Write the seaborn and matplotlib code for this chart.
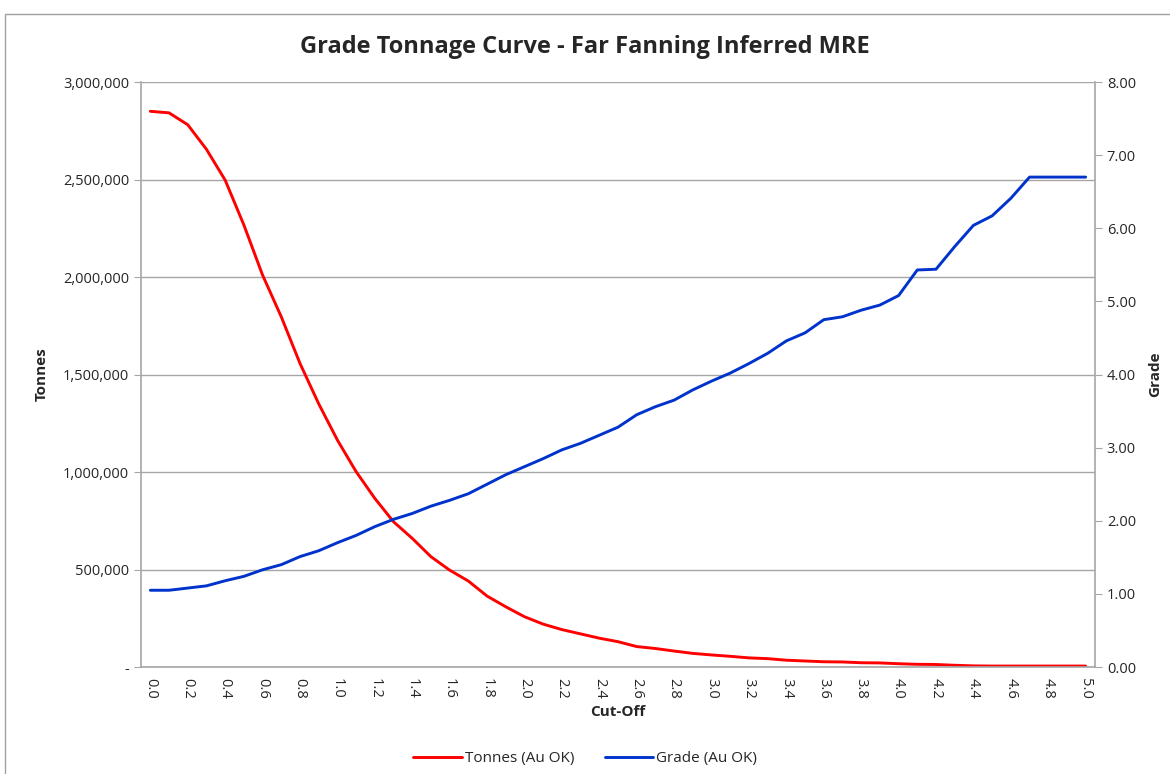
import matplotlib
matplotlib.use("Agg")
import matplotlib.pyplot as plt
import matplotlib.ticker as mticker
from matplotlib.patches import Rectangle
import seaborn as sns
import numpy as np
import pandas as pd

# cut-off grades 0.0 .. 5.0
cutoff = [round(0.1 * i, 1) for i in range(51)]

tonnes = [2850000, 2842000, 2781000, 2655000, 2497000, 2267000, 2010000, 1796000, 1557000, 1350000,
          1164000, 1002000, 865000, 745000, 660000, 566000, 497000, 441000, 364000, 309000,
          258000, 220000, 192000, 170000, 148000, 130000, 105000, 95000, 82000, 70000,
          62000, 55000, 47000, 43000, 35000, 31000, 27000, 26000, 22000, 21000,
          17000, 14000, 13000, 9000, 6000, 5000, 5000, 5000, 5000, 5000, 5000]

grade = [1.05, 1.05, 1.08, 1.11, 1.18, 1.24, 1.33, 1.40, 1.51, 1.59,
         1.70, 1.80, 1.92, 2.02, 2.10, 2.20, 2.28, 2.37, 2.50, 2.63,
         2.74, 2.85, 2.97, 3.06, 3.17, 3.28, 3.45, 3.56, 3.65, 3.79,
         3.91, 4.02, 4.15, 4.29, 4.46, 4.57, 4.75, 4.79, 4.88, 4.95,
         5.08, 5.43, 5.44, 5.75, 6.04, 6.17, 6.41, 6.70, 6.70, 6.70, 6.70]

df = pd.DataFrame({"cutoff": cutoff, "tonnes": tonnes, "grade": grade})

sns.set_style("white")
plt.rcParams['font.family'] = ['Open Sans', 'DejaVu Sans']

fig = plt.figure(figsize=(11.7, 7.74), dpi=100)
ax = fig.add_axes([0.1205, 0.1382, 0.8154, 0.7558])
ax2 = ax.twinx()

red = "#FF0000"
blue = "#0033CC"
sns.lineplot(data=df, x="cutoff", y="tonnes", ax=ax, color=red, linewidth=2.1)
sns.lineplot(data=df, x="cutoff", y="grade", ax=ax2, color=blue, linewidth=2.1)

ax.set_xlim(-0.05, 5.05)
ax.set_ylim(0, 3000000)
ax2.set_ylim(0, 8)

# horizontal gridlines
ax.set_yticks(np.arange(0, 3000001, 500000))
ax.yaxis.grid(True, color="#a6a6a6", linewidth=1)
ax.xaxis.grid(False)
ax.set_axisbelow(True)

ax.yaxis.set_major_formatter(mticker.FuncFormatter(lambda v, p: "-" if v == 0 else f"{v:,.0f}"))
ax2.set_yticks(np.arange(0, 8.01, 1))
ax2.yaxis.set_major_formatter(mticker.FuncFormatter(lambda v, p: f"{v:.2f}"))

# x ticks: labels every 0.2, tick marks on category boundaries
ax.set_xticks(np.arange(0, 5.01, 0.2))
ax.set_xticklabels([f"{v:.1f}" for v in np.arange(0, 5.01, 0.2)], rotation=270)
ax.set_xticks(np.arange(-0.05, 5.06, 0.1), minor=True)
ax.tick_params(axis="x", which="major", length=0, pad=8, labelsize=10.5)
ax.tick_params(axis="x", which="minor", length=5, color="#a6a6a6", width=1)
ax.tick_params(axis="y", length=5, color="#a6a6a6", labelsize=10.5)
ax2.tick_params(axis="y", length=5, color="#a6a6a6", labelsize=10.5)

for a in (ax, ax2):
    for s in a.spines.values():
        s.set_visible(False)
    a.spines["left"].set_visible(a is ax)
    a.spines["right"].set_visible(a is ax2)
    a.spines["bottom"].set_visible(a is ax)
for s in (ax.spines["left"], ax.spines["bottom"], ax2.spines["right"]):
    s.set_color("#a6a6a6")
    s.set_linewidth(1.2)

ax.set_xlabel("Cut-Off", fontsize=11, fontweight="bold", labelpad=4)
ax.set_ylabel("Tonnes", fontsize=11, fontweight="bold")
ax.yaxis.set_label_coords(-0.097, 0.5)
ax2.set_ylabel("Grade", fontsize=11, fontweight="bold")
ax2.yaxis.set_label_coords(1.056, 0.5)

fig.suptitle("Grade Tonnage Curve - Far Fanning Inferred MRE", x=0.5, y=0.955,
             fontsize=17, fontweight="bold")

lines = [ax.get_lines()[0], ax2.get_lines()[0]]
fig.legend(lines, ["Tonnes (Au OK)", "Grade (Au OK)"], loc="center", bbox_to_anchor=(0.5, 0.02),
           ncol=2, frameon=False, fontsize=11, handlelength=3.2, handletextpad=0.2, columnspacing=2)

# chart area border
fig.patches.append(Rectangle((0.004, -0.01), 1.1, 0.992, transform=fig.transFigure,
                             fill=False, edgecolor="#a0a0a0", linewidth=1))

fig.savefig("out.png", dpi=100)
